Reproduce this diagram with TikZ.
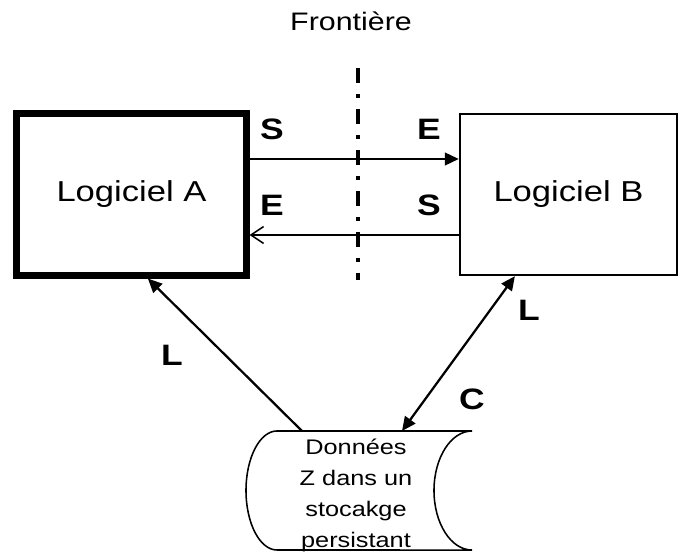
\documentclass[tikz,border=0pt]{standalone}
\usepackage{fontspec}
\setmainfont{Liberation Sans}[FakeStretch=1.2]
\usetikzlibrary{arrows.meta,calc}

\begin{document}
\begin{tikzpicture}[x=0.025cm,y=-0.025cm,
    softbox/.style={draw,rectangle,minimum width=5.725cm,minimum height=4.025cm,
      font=\fontsize{20.5}{24}\selectfont},
    flowlabel/.style={font=\fontsize{21}{25}\selectfont\bfseries,anchor=base},
    storetext/.style={font=\fontsize{15}{22}\selectfont,align=center,anchor=base},
    link/.style={line width=1.6pt,-{Triangle[length=10pt,width=9pt]}},
    >=stealth]

  \useasboundingbox (0,0) rectangle (679,552);

  % --- the two programs ---
  \node[softbox,line width=5pt] (logA) at (131.5,194.5) {Logiciel A};
  \node[softbox,line width=1.6pt,minimum width=5.425cm] (logB) at (568.5,194.5) {Logiciel B};

  % --- frontier ---
  \node[font=\fontsize{18}{22}\selectfont,anchor=base] (front) at (351,30) {Frontière};
  \coordinate (ftop) at (358,68);
  \coordinate (fbot) at (358,280);
  \draw[line width=2.5pt,dash pattern=on 10.7pt off 7.8pt on 2.8pt off 7.8pt] (ftop) -- (fbot);

  % --- exchanges across the frontier ---
  \draw[link] ([yshift=0.8875cm]logA.east) -- ([yshift=0.8875cm]logB.west);
  \draw[line width=1.1pt,-{Straight Barb[length=9pt,width=12pt]}]
       ([yshift=-1.0125cm]logB.west) -- ([yshift=-1.0125cm]logA.east);
  \node[flowlabel] (sA) at (272,139) {S};
  \node[flowlabel] (eB) at (429,139) {E};
  \node[flowlabel] (eA) at (272,215) {E};
  \node[flowlabel] (sB) at (429,215) {S};

  % --- persistent storage ---
  \draw[line width=1.1pt] (277,431) -- (472,431)
       arc[start angle=90,end angle=270,x radius=0.95cm,y radius=1.4875cm]
       -- (277,550)
       arc[start angle=270,end angle=90,x radius=0.775cm,y radius=1.4875cm];
  \node[storetext] (store) at (356,547) {Données\\Z dans un\\stocakge\\persistant};
  \coordinate (stA) at (302,431);
  \coordinate (stB) at (402,431);

  % --- reads and writes ---
  \draw[link] (stA) -- ([xshift=0.41cm]logA.south);
  \draw[link,{Triangle[length=10pt,width=9pt]}-{Triangle[length=10pt,width=9pt]}]
       (stB) -- ([xshift=-1.34cm]logB.south);
  \node[flowlabel] (lA) at (172,365) {L};
  \node[flowlabel] (lB) at (529,320) {L};
  \node[flowlabel] (cB) at (472,409) {C};

\end{tikzpicture}
\end{document}
